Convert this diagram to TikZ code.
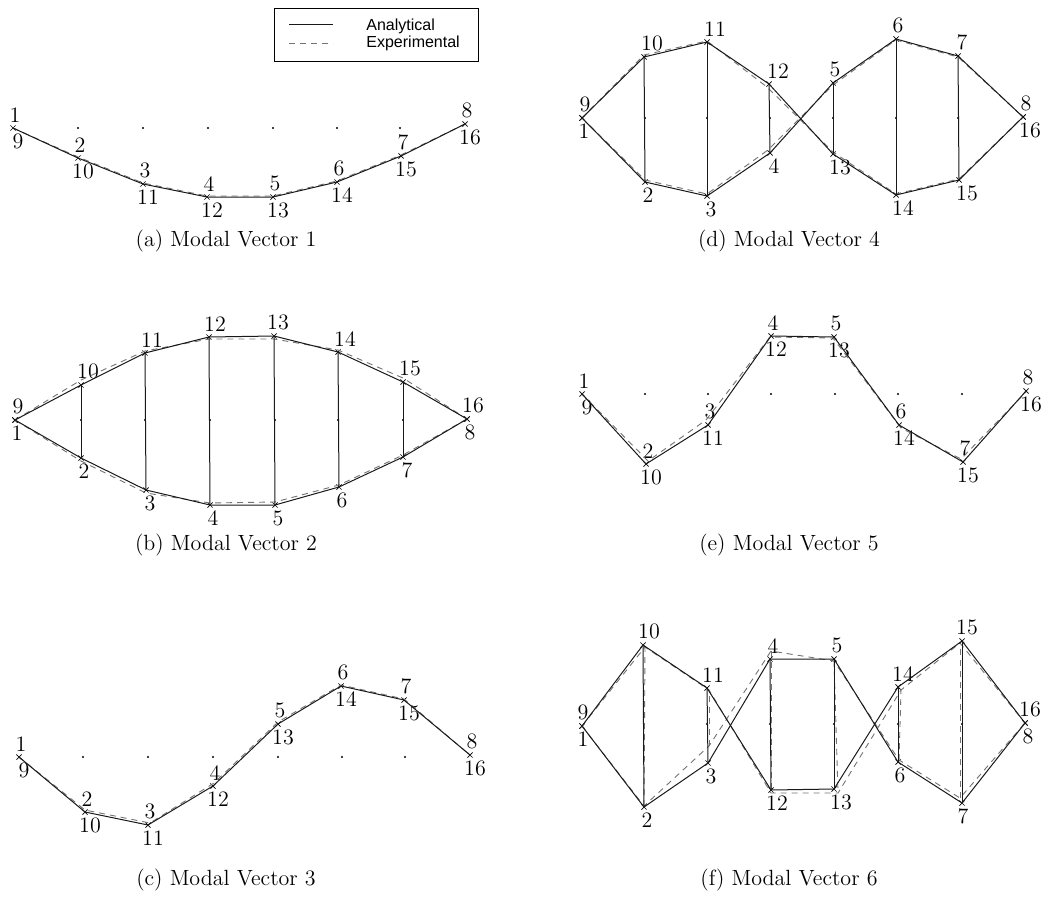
\documentclass[tikz,border=0pt]{standalone}
\usepackage{fontspec}
\newfontfamily\legfont{Liberation Sans}

\begin{document}
\begin{tikzpicture}[x=0.5pt,y=-0.5pt,label distance=1.2pt,
  ana/.style={line width=0.5pt,black!90},
  expt/.style={line width=0.45pt,black!55,dash pattern=on 3pt off 2.5pt},
  lbl/.style={inner sep=1.4pt,font=\fontsize{11}{13}\selectfont},
  captxt/.style={font=\fontsize{11}{13}\selectfont},
  xm/.style={line width=0.35pt},
  rest/.style={black}]
\useasboundingbox (0,0) rectangle (1048,904);

% legend
\draw[line width=0.5pt] (274,9) rectangle (478,62);
\coordinate (lgA) at (289,25); \coordinate (lgB) at (333,25);
\coordinate (lgC) at (289,43); \coordinate (lgD) at (333,43);
\draw[ana] (lgA) -- (lgB);
\draw[expt] (lgC) -- (lgD);
\node[anchor=west,inner sep=0pt,font=\legfont\fontsize{8}{9}\selectfont] (lgana) at (366,26) {Analytical};
\node[anchor=west,inner sep=0pt,font=\legfont\fontsize{8}{9}\selectfont] (lgexp) at (366,43) {Experimental};

% (a) mode 1
\foreach \x in {78,143,208,273,337,400} \fill[rest] (\x,128) circle (0.6pt);
\foreach \i/\x/\y [evaluate=\i as \j using int(\i+8)] in {1/13/128,2/78/158,3/143/184,4/207/197,5/273/197,6/337/182,7/401/156,8/465/124} {
  \coordinate[label={[lbl,xshift=1pt]above:\i},label={[lbl,xshift=2.5pt]below:\j}] (a\i) at (\x,\y);
  \draw[xm] (a\i) +(-1.3pt,-1.3pt) -- +(1.3pt,1.3pt) +(-1.3pt,1.3pt) -- +(1.3pt,-1.3pt);
}
\foreach \i/\x/\y in {1/13/128,2/78/157,3/143/183,4/207/196,5/273/196,6/337/181,7/401/155,8/465/124}
  \coordinate (ea\i) at (\x,\y);
\draw[expt] (ea1) foreach \i in {2,...,8} {-- (ea\i)};
\draw[ana] (a1) foreach \i in {2,...,8} {-- (a\i)};
\node[captxt] (capa) at (226,241) {(a) Modal Vector 1};

% (b) mode 2
\foreach \x in {81,145,210,275,338,403} \fill[rest] (\x,420) circle (0.6pt);
\foreach \i/\x/\y/\d/\s in {1/15/420/below/1,2/81/458/below/1.5,3/146/490/below/2,4/210/505/below/1.5,5/275/505/below/1.5,6/339/487/below/1.5,7/403/457/below/2,8/467/419/below/1.5,
    9/15/420/above/1.5,10/81/385/above/3.5,11/145/353/above/3.5,12/209/337/above/3,13/274/336/above/2,14/338/352/above/3.5,15/403/382/above/3.5,16/467/419/above/3} {
  \coordinate[label={[lbl,xshift=\s pt]\d:\i}] (b\i) at (\x,\y);
  \draw[xm] (b\i) +(-1.3pt,-1.3pt) -- +(1.3pt,1.3pt) +(-1.3pt,1.3pt) -- +(1.3pt,-1.3pt);
}
\foreach \i/\x/\y in {1/15/420,2/81/461,3/146/493,4/210/503,5/275/502,6/339/485,7/403/455,8/467/419,
    9/15/420,10/81/380,11/145/351,12/209/339,13/274/339,14/338/350,15/403/378,16/467/419}
  \coordinate (eb\i) at (\x,\y);
\draw[expt] (eb1) foreach \i in {2,...,8} {-- (eb\i)};
\draw[expt] (eb9) foreach \i in {10,...,16} {-- (eb\i)};
\draw[ana] (b1) foreach \i in {2,...,8} {-- (b\i)};
\draw[ana] (b9) foreach \i in {10,...,16} {-- (b\i)};
\foreach \i/\j in {2/10,3/11,4/12,5/13,6/14,7/15} \draw[ana] (b\i) -- (b\j);
\node[captxt] (capb) at (226,545) {(b) Modal Vector 2};

% (c) mode 3
\foreach \x in {83,148,213,278,342,405} \fill[rest] (\x,757) circle (0.6pt);
\foreach \i/\x/\y [evaluate=\i as \j using int(\i+8)] in {1/19/757,2/85/812,3/148/825,4/213/786,5/278/724,6/341/686,7/404/700,8/470/755} {
  \coordinate[label={[lbl,xshift=1pt]above:\i},label={[lbl,xshift=2.5pt]below:\j}] (c\i) at (\x,\y);
  \draw[xm] (c\i) +(-1.3pt,-1.3pt) -- +(1.3pt,1.3pt) +(-1.3pt,1.3pt) -- +(1.3pt,-1.3pt);
}
\foreach \i/\x/\y in {1/19/757,2/85/810,3/150/823,4/214/783,5/278/722,6/341/685,7/404/699,8/470/755}
  \coordinate (ec\i) at (\x,\y);
\draw[expt] (ec1) foreach \i in {2,...,8} {-- (ec\i)};
\draw[ana] (c1) foreach \i in {2,...,8} {-- (c\i)};
\node[captxt] (capc) at (226,880) {(c) Modal Vector 3};

% (d) mode 4
\foreach \x in {645,707,770,833,896,958} \fill[rest] (\x,118) circle (0.6pt);
\foreach \i/\x/\y/\d/\s in {1/582/118/below/1,2/645/182/below/1.5,3/707/196/below/2,4/770/153/below/2,5/833/83/above/1,6/896/39/above/1,7/958/56/above/2,8/1023/117/above/1.5,
    9/582/118/above/1.5,10/644/57/above/4,11/707/42/above/4,12/769/84/above/4.5,13/833/154/below/3.5,14/896/195/below/3.5,15/959/180/below/4,16/1023/117/below/3.5} {
  \coordinate[label={[lbl,xshift=\s pt]\d:\i}] (d\i) at (\x,\y);
  \draw[xm] (d\i) +(-1.3pt,-1.3pt) -- +(1.3pt,1.3pt) +(-1.3pt,1.3pt) -- +(1.3pt,-1.3pt);
}
\foreach \i/\x/\y in {1/582/118,2/645/180,3/707/194,4/768/150,5/833/85,6/896/40,7/958/57,8/1023/117,
    9/582/118,10/644/55,11/707/41,12/767/87,13/833/152,14/896/194,15/959/179,16/1023/117}
  \coordinate (ed\i) at (\x,\y);
\draw[expt] (ed1) foreach \i in {2,...,8} {-- (ed\i)};
\draw[expt] (ed9) foreach \i in {10,...,16} {-- (ed\i)};
\draw[ana] (d1) foreach \i in {2,...,8} {-- (d\i)};
\draw[ana] (d9) foreach \i in {10,...,16} {-- (d\i)};
\foreach \i/\j in {2/10,3/11,4/12,5/13,6/14,7/15} \draw[ana] (d\i) -- (d\j);
\node[captxt] (capd) at (789,241) {(d) Modal Vector 4};

% (e) mode 5
\foreach \x in {645,708,771,835,898,962} \fill[rest] (\x,394) circle (0.6pt);
\foreach \i/\x/\y [evaluate=\i as \j using int(\i+8)] in {1/582/394,2/646/464,3/708/425,4/771/336,5/834/337,6/899/425,7/963/462,8/1026/391} {
  \coordinate[label={[lbl,xshift=1pt]above:\i},label={[lbl,xshift=2.5pt]below:\j}] (e\i) at (\x,\y);
  \draw[xm] (e\i) +(-1.3pt,-1.3pt) -- +(1.3pt,1.3pt) +(-1.3pt,1.3pt) -- +(1.3pt,-1.3pt);
}
\foreach \i/\x/\y in {1/582/394,2/648/461,3/706/420,4/770/337,5/833/338,6/901/428,7/961/459,8/1026/392}
  \coordinate (ee\i) at (\x,\y);
\draw[expt] (ee1) foreach \i in {2,...,8} {-- (ee\i)};
\draw[ana] (e1) foreach \i in {2,...,8} {-- (e\i)};
\node[captxt] (cape) at (789,545) {(e) Modal Vector 5};

% (f) mode 6
\foreach \x in {644,707,770,834,898,962} \fill[rest] (\x,724) circle (0.6pt);
\foreach \i/\x/\y/\d/\s in {1/582/726/below/0.5,2/644/807/below/1.5,3/708/763/below/1.5,4/770/659/above/1.5,5/834/659/above/1.5,6/898/762/below/1,7/962/803/below/0.5,8/1025/723/below/1.5,
    9/582/726/above/0.5,10/643/645/above/3,11/707/688/above/3,12/771/790/below/3,13/834/789/below/3.5,14/898/687/above/2.5,15/962/641/above/2.5,16/1025/723/above/2.5} {
  \coordinate[label={[lbl,xshift=\s pt]\d:\i}] (f\i) at (\x,\y);
  \draw[xm] (f\i) +(-1.3pt,-1.3pt) -- +(1.3pt,1.3pt) +(-1.3pt,1.3pt) -- +(1.3pt,-1.3pt);
}
\foreach \i/\x/\y in {1/582/726,2/644/806,3/709/746,4/771/651,5/834/661,6/899/760,7/960/798,8/1025/723,
    9/582/726,10/645/647,11/709/690,12/771/793,13/838/793,14/901/690,15/960/643,16/1025/723}
  \coordinate (ef\i) at (\x,\y);
\draw[expt] (ef1) foreach \i in {2,...,8} {-- (ef\i)};
\draw[expt] (ef9) foreach \i in {10,...,16} {-- (ef\i)};
\foreach \i/\j in {2/10,3/11,4/12,5/13,6/14,7/15} \draw[expt] (ef\i) -- (ef\j);
\draw[ana] (f1) foreach \i in {2,...,8} {-- (f\i)};
\draw[ana] (f9) foreach \i in {10,...,16} {-- (f\i)};
\foreach \i/\j in {2/10,3/11,4/12,5/13,6/14,7/15} \draw[ana] (f\i) -- (f\j);
\node[captxt] (capf) at (789,880) {(f) Modal Vector 6};
\end{tikzpicture}
\end{document}
